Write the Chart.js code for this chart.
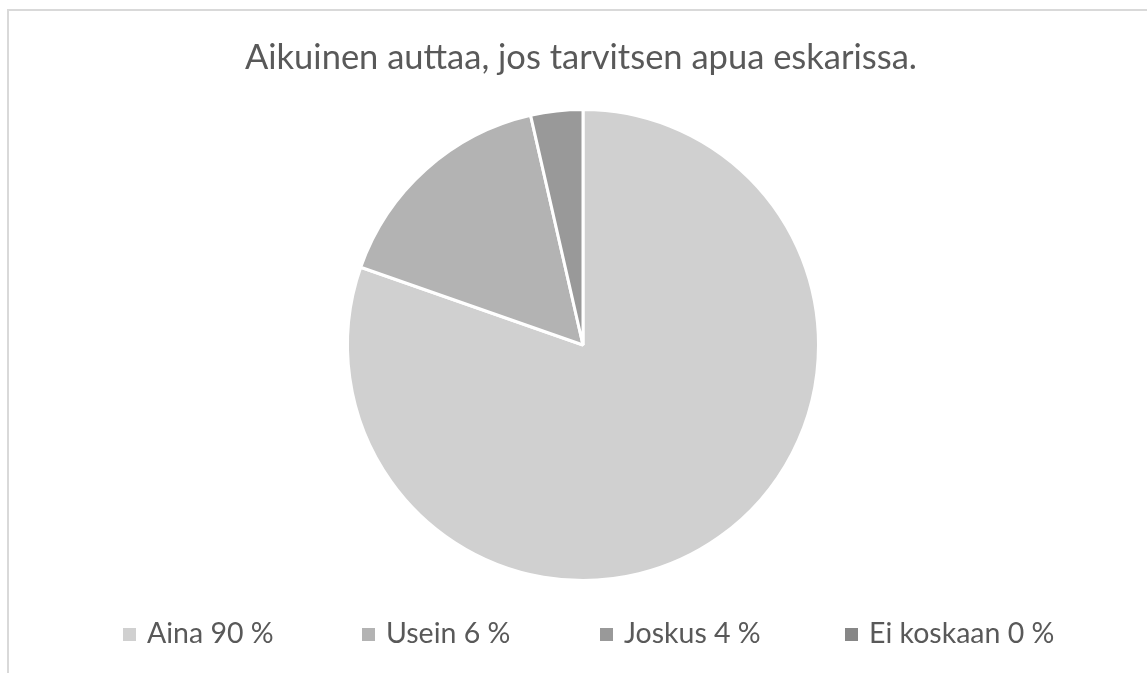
<!DOCTYPE html>
<html>
<head>
<meta charset="utf-8">
<script src="https://cdn.jsdelivr.net/npm/chart.js@4"></script>
<style>
  html, body { margin: 0; padding: 0; background: #fff; }
  #frame {
    position: absolute; left: 7px; top: 9px; width: 1200px; height: 700px;
    border-left: 2px solid #d9d9d9; border-top: 2px solid #d9d9d9;
  }
  #wrap { position: absolute; left: 0; top: 0; width: 1147px; height: 673px; }
</style>
</head>
<body>
<div id="frame"></div>
<div id="wrap"><canvas id="pieChart" width="1147" height="673"></canvas></div>
<script>
const chartTitle = "Aikuinen auttaa, jos tarvitsen apua eskarissa.";
const categories = ["Aina", "Usein", "Joskus", "Ei koskaan"];
const legendPercents = ["90 %", "6 %", "4 %", "0 %"];
const answers = [45, 9, 2, 0];
const sliceColors = ["#d0d0d0", "#b3b3b3", "#999999", "#878787"];

const textColor = "#595959";
const fontFamily = "Lato, 'Open Sans', sans-serif";

// Excel-style legend in fixed columns + title
const excelDecor = {
  id: "excelDecor",
  afterDraw(chart) {
    const ctx = chart.ctx;
    ctx.save();
    ctx.fillStyle = textColor;
    ctx.font = "34.5px " + fontFamily;
    ctx.textAlign = "center";
    ctx.textBaseline = "middle";
    ctx.fillText(chartTitle, 581, 58);

    const colX = [123, 362, 600, 845];
    ctx.font = "28.5px " + fontFamily;
    ctx.textAlign = "left";
    categories.forEach((cat, i) => {
      ctx.fillStyle = sliceColors[i];
      ctx.fillRect(colX[i], 628, 13, 13);
      ctx.fillStyle = textColor;
      ctx.fillText(`${cat} ${legendPercents[i]}`, colX[i] + 24, 634);
    });
    ctx.restore();
  }
};

new Chart(document.getElementById("pieChart").getContext("2d"), {
  type: "pie",
  data: {
    labels: categories,
    datasets: [{
      data: answers,
      backgroundColor: sliceColors,
      borderColor: "#ffffff",
      borderWidth: 3
    }]
  },
  options: {
    responsive: false,
    animation: false,
    layout: { padding: { top: 108, bottom: 91, left: 19, right: 0 } },
    plugins: {
      legend: { display: false },
      title: { display: false },
      tooltip: { enabled: false }
    }
  },
  plugins: [excelDecor]
});
</script>
</body>
</html>
